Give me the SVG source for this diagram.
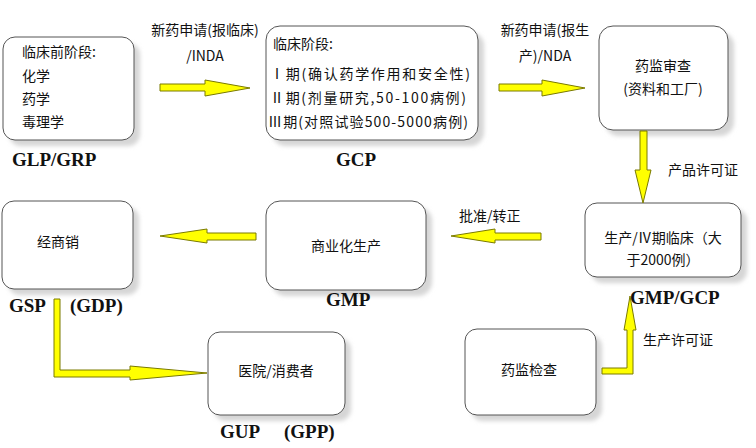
<svg xmlns="http://www.w3.org/2000/svg" width="756" height="448" viewBox="0 0 756 448">
<defs>
<style>
.box{fill:#fff;stroke:#555;stroke-width:1}
.sh{fill:#d6d6d6}
.t{font-family:"Noto Sans CJK SC","Liberation Sans",sans-serif;font-size:14px;fill:#111}
.c{text-anchor:middle}
.b{font-family:"Liberation Serif","Noto Sans CJK SC",serif;font-size:19px;font-weight:bold;fill:#111}
.ar{fill:#ffff00;stroke:#7a7a00;stroke-width:1}
</style>
<filter id="blur"><feGaussianBlur stdDeviation="2"/></filter>
</defs>
<rect width="756" height="448" fill="#fff"/>
<g id="n1"><rect class="sh" filter="url(#blur)" x="9" y="43" width="131" height="103" rx="12"/><rect class="box" x="3" y="37" width="131" height="103" rx="12"/>
<text class="t" x="22" y="57">临床前阶段:</text><text class="t" x="22" y="81">化学</text><text class="t" x="22" y="104">药学</text><text class="t" x="22" y="127">毒理学</text></g>
<g id="n2"><rect class="sh" filter="url(#blur)" x="272" y="32" width="212" height="114" rx="14"/><rect class="box" x="266" y="26" width="212" height="114" rx="14"/>
<text class="t" x="273" y="49" font-size="13">临床阶段:</text><text class="t" x="270" y="79" textLength="200" lengthAdjust="spacing">Ⅰ期(确认药学作用和安全性)</text><text class="t" x="270" y="103" textLength="196" lengthAdjust="spacing">Ⅱ期(剂量研究,50-100病例)</text><text class="t" x="268" y="127" textLength="200" lengthAdjust="spacing">Ⅲ期(对照试验500-5000病例)</text></g>
<g id="n3"><rect class="sh" filter="url(#blur)" x="605" y="32" width="129" height="104" rx="14"/><rect class="box" x="599" y="26" width="129" height="104" rx="14"/>
<text class="t c" x="663" y="71" font-size="15">药监审查</text><text class="t c" x="663" y="94">(资料和工厂)</text></g>
<g id="n4"><rect class="sh" filter="url(#blur)" x="591" y="209" width="156" height="74" rx="12"/><rect class="box" x="585" y="203" width="156" height="74" rx="12"/>
<text class="t c" x="663" y="243">生产/Ⅳ期临床（大</text><text class="t c" x="663" y="265">于2000例）</text></g>
<g id="n5"><rect class="sh" filter="url(#blur)" x="272" y="207" width="160" height="89" rx="14"/><rect class="box" x="266" y="201" width="160" height="89" rx="14"/>
<text class="t c" x="346" y="251">商业化生产</text></g>
<g id="n6"><rect class="sh" filter="url(#blur)" x="8" y="207" width="131" height="88" rx="12"/><rect class="box" x="2" y="201" width="131" height="88" rx="12"/>
<text class="t" x="37" y="247">经商销</text></g>
<g id="n7"><rect class="sh" filter="url(#blur)" x="214" y="338" width="137" height="83" rx="12"/><rect class="box" x="208" y="332" width="137" height="83" rx="12"/>
<text class="t c" x="276" y="376">医院/消费者</text></g>
<g id="n8"><rect class="sh" filter="url(#blur)" x="471" y="335" width="131" height="86" rx="12"/><rect class="box" x="465" y="329" width="131" height="86" rx="12"/>
<text class="t c" x="529" y="375">药监检查</text></g>
<g id="labels">
<text class="b" x="12" y="166">GLP/GRP</text>
<text class="b" x="336" y="166">GCP</text>
<text class="b" x="630" y="304">GMP/GCP</text>
<text class="b" x="326" y="306">GMP</text>
<text class="b" x="9" y="312">GSP</text><text class="b" x="70" y="312">(GDP)</text>
<text class="b" x="220" y="438">GUP</text><text class="b" x="284" y="438">(GPP)</text>
<text class="t c" x="205" y="35">新药申请(报临床)</text>
<text class="t c" x="205" y="61" font-family="Liberation Serif,serif">/INDA</text>
<text class="t c" x="545" y="35">新药申请(报生</text>
<text class="t c" x="545" y="61">产)/NDA</text>
<text class="t" x="668" y="175">产品许可证</text>
<text class="t" x="459" y="221">批准/转正</text>
<text class="t" x="643" y="345">生产许可证</text>
</g>
<g id="connectors">
<polygon class="ar" points="160,84 205,84 205,80 250,88 205,96 205,91 160,91"/>
<polygon class="ar" points="499,84 542,84 542,80 585,88 542,96 542,91 499,91"/>
<polygon class="ar" points="640,131 647,131 647,170 651,170 643,203 635,170 640,170"/>
<polygon class="ar" points="541,233 495,233 495,229 451,236 495,243 495,240 541,240"/>
<polygon class="ar" points="256,233 207,233 207,229 160,236 207,243 207,240 256,240"/>
<polygon class="ar" points="54,299 60,299 60,370 130,370 130,366 207,373 130,380 130,377 54,377"/>
<polygon class="ar" points="602,368 627,368 627,330 624,330 630,296 636,330 633,330 633,374 602,374"/>
</g>
</svg>
